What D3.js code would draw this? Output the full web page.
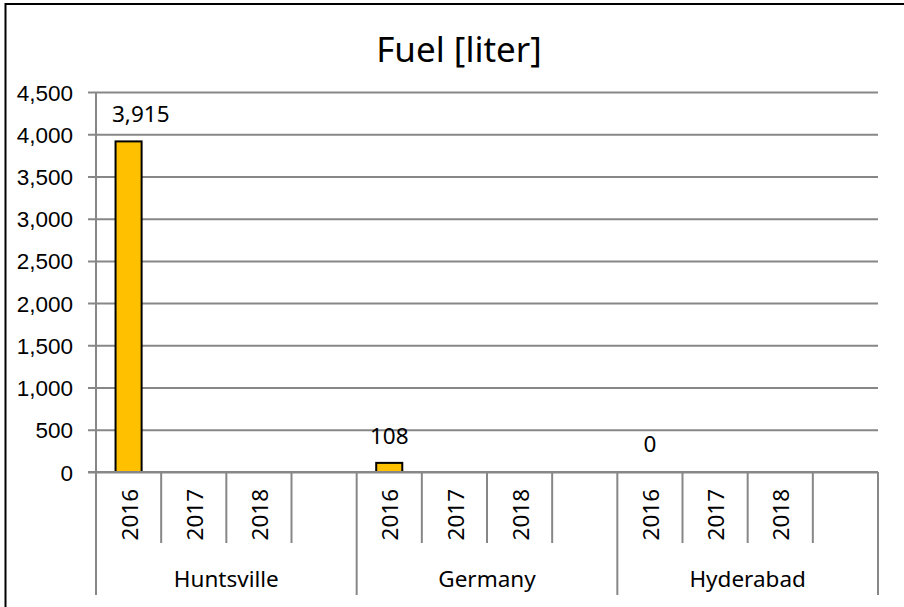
<!DOCTYPE html>
<html>
<head>
<meta charset="utf-8">
<script src="https://cdn.jsdelivr.net/npm/d3@7"></script>
<style>
  body { margin: 0; background: #fff; }
  svg { display: block; font-family: "Noto Sans", "Open Sans", sans-serif; }
</style>
</head>
<body>
<svg id="chart" width="904" height="607"></svg>
<script>
// data
var groups = ["Huntsville", "Germany", "Hyderabad"];
var years = ["2016", "2017", "2018", ""];   // last slot is the empty one
var fuel = {
  Huntsville: [3915, null, null],
  Germany: [108, null, null],
  Hyderabad: [0, null, null]
};
var yTicks = [0, 500, 1000, 1500, 2000, 2500, 3000, 3500, 4000, 4500];

// margins / plot box
var plot = { left: 96, right: 878, top: 92, bottom: 472 };
var svg = d3.select("#chart");

// outer frame (cut off on right and bottom like the picture)
svg.append("rect")
  .attr("x", 5.5).attr("y", 4)
  .attr("width", 1000).attr("height", 1000)
  .attr("fill", "none").attr("stroke", "#000").attr("stroke-width", 2);

// title
svg.append("text")
  .attr("x", 459).attr("y", 62)
  .attr("text-anchor", "middle")
  .style("font-size", "35px")
  .text("Fuel [liter]");

// slots: every group gets the 4 year slots
var slots = [];
groups.forEach(function(g) {
  years.forEach(function(yr, i) {
    slots.push({ group: g, year: yr, idx: i, value: i < 3 ? fuel[g][i] : null });
  });
});

var xScale = d3.scaleBand().domain(slots.map(function(d){ return d.group + "|" + d.idx; }))
  .range([plot.left, plot.right]).padding(0);
var yScale = d3.scaleLinear().domain([0, 4500]).range([plot.bottom, plot.top]);
var gridColor = "#878787";

// y axis with gridlines
var yAxis = d3.axisLeft(yScale)
  .tickValues(yTicks)
  .tickFormat(d3.format(","));
var gy = svg.append("g")
  .attr("transform", "translate(" + (plot.left - 8) + ",0)")
  .call(yAxis);
gy.select(".domain").remove();
gy.selectAll(".tick line").attr("stroke", gridColor).attr("stroke-width", 2)
  .attr("x1", 0).attr("x2", plot.right - plot.left + 8);
gy.selectAll(".tick text").style("font-size", "22.5px").attr("fill", "#000")
  .attr("x", -15).attr("dy", "0.36em");

// left edge of the plot
svg.append("line")
  .attr("x1", plot.left).attr("x2", plot.left)
  .attr("y1", plot.top).attr("y2", plot.bottom)
  .attr("stroke", gridColor).attr("stroke-width", 2);

// category dividers
var bw = xScale.bandwidth();
var edges = d3.range(slots.length + 1);
svg.selectAll(".divider").data(edges).enter().append("line")
  .attr("class", "divider")
  .attr("x1", function(k){ return plot.left + k * bw; })
  .attr("x2", function(k){ return plot.left + k * bw; })
  .attr("y1", plot.bottom)
  .attr("y2", function(k){ return k % 4 === 0 ? 595 : 543; })
  .attr("stroke", gridColor).attr("stroke-width", 2);

// year labels, rotated
svg.selectAll(".year").data(slots.filter(function(d){ return d.year !== ""; })).enter().append("text")
  .attr("class", "year")
  .attr("transform", function(d) {
    return "translate(" + (xScale(d.group + "|" + d.idx) + bw / 2 + 1) + ",489) rotate(-90)";
  })
  .attr("text-anchor", "end")
  .attr("dy", "0.36em")
  .style("font-size", "22.5px")
  .text(function(d){ return d.year; });

// group labels
svg.selectAll(".group").data(groups).enter().append("text")
  .attr("class", "group")
  .attr("x", function(g){ return xScale(g + "|0") + bw * 2; })
  .attr("y", 587)
  .attr("text-anchor", "middle")
  .style("font-size", "22.5px")
  .text(function(g){ return g; });

// bars
var withValue = slots.filter(function(d){ return d.value !== null; });
var barW = bw * 0.4;
svg.selectAll(".bar").data(withValue.filter(function(d){ return d.value > 0; })).enter().append("rect")
  .attr("class", "bar")
  .attr("x", function(d){ return xScale(d.group + "|" + d.idx) + (bw - barW) / 2; })
  .attr("y", function(d){ return yScale(d.value); })
  .attr("width", barW)
  .attr("height", function(d){ return yScale(0) - yScale(d.value); })
  .attr("fill", "#FFC000").attr("stroke", "#000").attr("stroke-width", 2);

// axis line on top of bars' base
svg.append("line")
  .attr("x1", plot.left - 8).attr("x2", plot.right)
  .attr("y1", plot.bottom).attr("y2", plot.bottom)
  .attr("stroke", gridColor).attr("stroke-width", 2);

// data labels (kept a bit away from the plot's left edge, like excel does)
svg.selectAll(".lbl").data(withValue).enter().append("text")
  .attr("class", "lbl")
  .attr("y", function(d){ return Math.min(yScale(d.value) - 19, yScale(0) - 20); })
  .attr("text-anchor", "middle")
  .style("font-size", "22.5px")
  .text(function(d){ return d3.format(",")(d.value); })
  .attr("x", function(d){
    var half = this.getComputedTextLength() / 2;
    var cx = xScale(d.group + "|" + d.idx) + bw / 2;
    return Math.max(cx, plot.left + 16 + half);
  });
</script>
</body>
</html>
